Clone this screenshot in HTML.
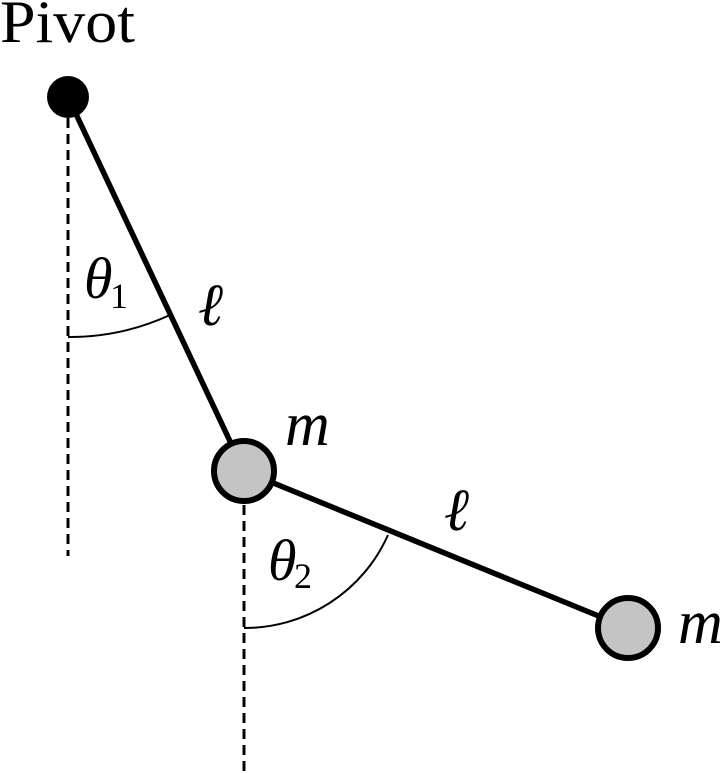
<!DOCTYPE html>
<html><head><style>body{margin:0;background:#fff}svg{display:block}</style></head>
<body>
<svg width="726" height="774" viewBox="0 0 726 774" xmlns="http://www.w3.org/2000/svg">
<g stroke="#000" fill="none">
<line x1="68" y1="118" x2="68" y2="556" stroke-width="3" stroke-dasharray="10,6"/>
<line x1="244" y1="505" x2="244" y2="774" stroke-width="3" stroke-dasharray="10,6"/>
<path d="M68 337 A240 240 0 0 0 170 315" stroke-width="2"/>
<path d="M244 628 A157 157 0 0 0 388 535" stroke-width="2"/>
<line x1="68" y1="97" x2="244" y2="471" stroke-width="5.5"/>
<line x1="244" y1="471" x2="628" y2="628" stroke-width="5.5"/>
</g>
<circle cx="68" cy="97" r="21" fill="#000"/>
<circle cx="244" cy="471" r="30" fill="#c4c4c4" stroke="#000" stroke-width="6"/>
<circle cx="628" cy="628" r="30" fill="#c4c4c4" stroke="#000" stroke-width="6"/>
<g font-family="Liberation Serif, serif" fill="#000">
<text x="0" y="42" font-size="60" textLength="135" lengthAdjust="spacingAndGlyphs">Pivot</text>
<text x="84" y="298" font-size="58" font-style="italic">θ</text>
<text x="110" y="308" font-size="36">1</text>
<text x="268" y="580" font-size="58" font-style="italic">θ</text>
<text x="294" y="588" font-size="36">2</text>
<text x="198" y="325" font-size="60" font-style="italic">ℓ</text>
<text x="444" y="530" font-size="60" font-style="italic">ℓ</text>
<text x="285" y="445" font-size="62" font-style="italic">m</text>
<text x="678" y="643" font-size="62" font-style="italic">m</text>
</g>
</svg>
</body></html>
